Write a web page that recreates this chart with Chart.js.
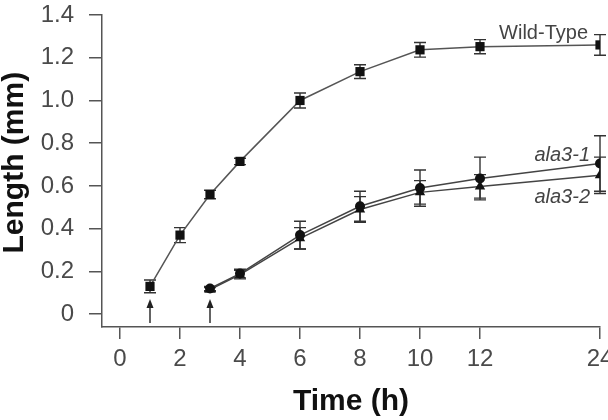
<!DOCTYPE html>
<html>
<head>
<meta charset="utf-8">
<script src="https://cdn.jsdelivr.net/npm/chart.js@4"></script>
<style>
  html, body { margin:0; padding:0; background:#fff; overflow:hidden; }
  canvas { display:block; }
</style>
</head>
<body>
<canvas id="chart" width="608" height="420"></canvas>
<script>
'use strict';

// times in hours; the axis is broken after 12 h (12 -> 24 squeezed)
const wtTimes = [1, 2, 3, 4, 6, 8, 10, 12, 24];
const wtLength = [0.13, 0.37, 0.56, 0.715, 1.0, 1.135, 1.237, 1.252, 1.26];
const wtErr = [0.03, 0.035, 0.02, 0.015, 0.035, 0.032, 0.034, 0.033, 0.048];

const alaTimes = [3, 4, 6, 8, 10, 12, 24];
const ala1Length = [0.12, 0.19, 0.37, 0.505, 0.59, 0.635, 0.705];
const ala1Err = [0.01, 0.02, 0.065, 0.07, 0.085, 0.1, 0.13];
const ala2Length = [0.115, 0.185, 0.355, 0.49, 0.57, 0.598, 0.65];
const ala2Err = [0.01, 0.02, 0.05, 0.06, 0.055, 0.055, 0.085];

const xTickTimes = [0, 2, 4, 6, 8, 10, 12, 24];
const yTicks = [0, 0.2, 0.4, 0.6, 0.8, 1.0, 1.2, 1.4];
const arrowTimes = [1, 3];

const FONT = "'Liberation Sans', Arial, Helvetica, sans-serif";

function axisPos(t) { return t <= 12 ? t : 12 + (t - 12) / 3; }
function pts(times, vals) { return times.map((t, i) => ({x: axisPos(t), y: vals[i]})); }

const errors = [wtErr, ala1Err, ala2Err];

const errorBars = {
  id: 'errorBars',
  beforeDatasetsDraw(chart) {
    const ctx = chart.ctx; const ys = chart.scales.y;
    ctx.save();
    ctx.strokeStyle = '#333'; ctx.lineWidth = 1.4;
    chart.data.datasets.forEach((ds, di) => {
      const meta = chart.getDatasetMeta(di);
      meta.data.forEach((p, i) => {
        const v = ds.data[i].y, e = errors[di][i];
        const top = ys.getPixelForValue(v + e), bot = ys.getPixelForValue(v - e);
        ctx.beginPath();
        ctx.moveTo(p.x, top); ctx.lineTo(p.x, bot);
        ctx.moveTo(p.x - 6, top); ctx.lineTo(p.x + 6, top);
        ctx.moveTo(p.x - 6, bot); ctx.lineTo(p.x + 6, bot);
        ctx.stroke();
      });
    });
    ctx.restore();
  }
};

const extras = {
  id: 'extras',
  afterDatasetsDraw(chart) {
    const ctx = chart.ctx; const xs = chart.scales.x; const area = chart.chartArea;
    ctx.save();
    // start arrows
    ctx.strokeStyle = '#222'; ctx.fillStyle = '#222'; ctx.lineWidth = 1.4;
    arrowTimes.forEach(t => {
      const x = xs.getPixelForValue(axisPos(t));
      ctx.beginPath(); ctx.moveTo(x, area.bottom - 4); ctx.lineTo(x, area.bottom - 22); ctx.stroke();
      ctx.beginPath(); ctx.moveTo(x, area.bottom - 28); ctx.lineTo(x - 3.5, area.bottom - 19); ctx.lineTo(x + 3.5, area.bottom - 19); ctx.closePath(); ctx.fill();
    });
    // series labels next to the 24 h points
    ctx.fillStyle = '#444'; ctx.textAlign = 'right'; ctx.textBaseline = 'middle';
    const last = i => { const d = chart.getDatasetMeta(i).data; return d[d.length - 1]; };
    let p = last(0);
    ctx.font = '20px ' + FONT;
    ctx.fillText('Wild-Type', p.x - 12, p.y - 11);
    ctx.font = 'italic 20px ' + FONT;
    p = last(1); ctx.fillText('ala3-1', p.x - 10, p.y - 8);
    p = last(2); ctx.fillText('ala3-2', p.x - 10, p.y + 22);
    ctx.restore();
  }
};

new Chart(document.getElementById('chart').getContext('2d'), {
  type: 'line',
  data: {
    datasets: [
      { label: 'Wild-Type', data: pts(wtTimes, wtLength), borderColor: '#555', borderWidth: 1.5,
        pointStyle: 'rect', pointRadius: 6.5, pointBackgroundColor: '#111', pointBorderWidth: 0 },
      { label: 'ala3-1', data: pts(alaTimes, ala1Length), borderColor: '#444', borderWidth: 1.5,
        pointStyle: 'circle', pointRadius: 5, pointBackgroundColor: '#111', pointBorderWidth: 0 },
      { label: 'ala3-2', data: pts(alaTimes, ala2Length), borderColor: '#444', borderWidth: 1.5,
        pointStyle: 'triangle', pointRadius: 6, pointBackgroundColor: '#111', pointBorderWidth: 0 }
    ]
  },
  options: {
    responsive: false,
    animation: false,
    layout: { padding: { top: 15, right: 8, left: 0, bottom: 0 } },
    plugins: { legend: { display: false }, tooltip: { enabled: false } },
    scales: {
      x: {
        type: 'linear', min: -0.6, max: 16,
        afterBuildTicks: s => { s.ticks = xTickTimes.map(t => ({value: axisPos(t)})); },
        afterFit: s => { s.height = 93; s.paddingLeft = 0; s.paddingRight = 0; },
        grid: { drawOnChartArea: false, drawTicks: true, tickLength: 12, color: '#555', lineWidth: 1.5 },
        border: { color: '#555', width: 1.5 },
        ticks: { color: '#4a4a4a', padding: 6, font: { family: FONT, size: 24 },
          callback: v => String(xTickTimes[xTickTimes.map(axisPos).indexOf(v)]) },
        title: { display: true, text: 'Time (h)', color: '#111',
          font: { family: FONT, size: 30, weight: 'bold', lineHeight: 1 }, padding: { top: 4, bottom: 3 } }
      },
      y: {
        min: -0.06, max: 1.4,
        afterBuildTicks: s => { s.ticks = yTicks.map(v => ({value: v})); },
        afterFit: s => { s.width = 102; s.paddingTop = 0; s.paddingBottom = 0; },
        grid: { drawOnChartArea: false, drawTicks: true, tickLength: 13, color: '#555', lineWidth: 1.5 },
        border: { color: '#555', width: 1.5 },
        ticks: { color: '#4a4a4a', padding: 15, font: { family: FONT, size: 24 },
          callback: v => v === 0 ? '0' : v.toFixed(1) },
        title: { display: true, text: '  Length (mm)', color: '#111',
          font: { family: FONT, size: 30, weight: 'bold', lineHeight: 1 }, padding: { top: 0, bottom: 0 } }
      }
    }
  },
  plugins: [errorBars, extras]
});
</script>
</body>
</html>
